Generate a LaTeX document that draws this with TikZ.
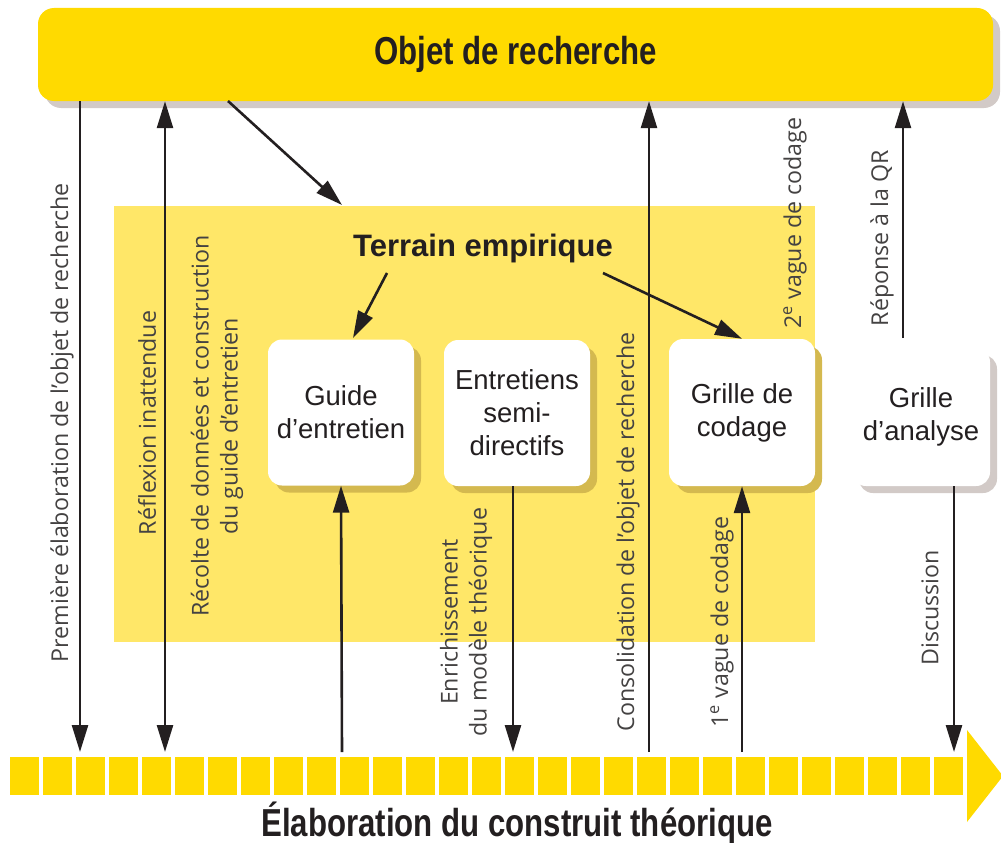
\documentclass[tikz,border=0pt]{standalone}
\usepackage{fontspec}
\usetikzlibrary{arrows.meta,calc}
\setmainfont{Liberation Sans}
\newfontfamily\headfont[FakeStretch=0.8]{Liberation Sans}
\newfontfamily\labfont{Open Sans}
\definecolor{ybright}{HTML}{FFDA00}
\definecolor{ylight}{HTML}{FFE768}
\definecolor{yshadow}{HTML}{D4B94F}
\definecolor{gshadow}{HTML}{D2CAC7}
\definecolor{ink}{HTML}{231F20}
\definecolor{labgray}{HTML}{444242}
\tikzset{
  arr/.style={draw=ink, line width=2.6pt, -{Triangle[length=27pt,width=16pt]}},
  darr/.style={draw=ink, line width=2.6pt, {Triangle[length=27pt,width=16pt]}-{Triangle[length=27pt,width=16pt]}},
  wbox/.style={fill=white, rounded corners=14pt, inner sep=0pt, align=center,
    text=ink, font=\fontsize{27.5}{33}\selectfont},
  yshad/.style={preaction={fill=yshadow, transform canvas={shift={(7pt,-7pt)}}}},
  gshad/.style={preaction={fill=gshadow, transform canvas={shift={(7pt,-7pt)}}}},
  lab/.style={rotate=90, text=labgray, align=center, inner sep=0pt,
    font=\labfont\fontsize{23.2}{29}\selectfont},
  seg/.style={fill=ybright}
}
\begin{document}
\begin{tikzpicture}[x=1pt,y=-1pt]
\useasboundingbox (0,0) rectangle (1001,843);
% top bar
\node[gshad, fill=ybright, rounded corners=16pt, minimum width=955pt, minimum height=93pt,
  inner sep=0pt, text=ink, font=\headfont\bfseries\fontsize{39}{44}\selectfont]
  (objet) at (515.5,54.5) {Objet de recherche};
% terrain region
\node[fill=ylight, minimum width=701pt, minimum height=436pt, inner sep=0pt] (terrain) at (464.5,424) {};
\node[text=ink, font=\bfseries\fontsize{31}{36}\selectfont, inner sep=0pt] (te) at (483,248) {Terrain empirique};
% boxes
\node[wbox, yshad, minimum width=146pt, minimum height=146pt] (guide) at (341,412.5) {Guide\\d’entretien};
\node[wbox, yshad, minimum width=146pt, minimum height=146pt] (entre) at (517,413) {Entretiens\\semi-\\directifs};
\node[wbox, yshad, minimum width=146pt, minimum height=147pt] (codage) at (742,412.5) {Grille de\\codage};
\node[wbox, gshad, minimum width=138pt, minimum height=138pt] (analyse) at (921,417) {Grille\\d’analyse};
% timeline
\foreach \i in {0,...,28} \fill[seg] (10+33*\i,757) rectangle ++(29,38);
\fill[ybright] (967,730) -- (1003,776) -- (967,822) -- cycle;
\node[text=ink, font=\headfont\bfseries\fontsize{39}{44}\selectfont, inner sep=0pt] (elab) at (517,823) {Élaboration du construit théorique};
% free ends on the timeline and elsewhere
\coordinate (b1) at (80,752);
\coordinate (b2) at (165,752);
\coordinate (b3) at (342,752);
\coordinate (b4) at (513,752);
\coordinate (b5) at (649,752);
\coordinate (b6) at (742,752);
\coordinate (b7) at (954,752);
\coordinate (r1) at (903,338);
\coordinate (d1) at (228,101);
\coordinate (d2) at (342,205);
\coordinate (t1) at (387,273);
\coordinate (t2) at (603,273);
% connectors
\draw[arr] (objet.south -| b1) -- (b1);
\draw[darr] (objet.south -| b2) -- (b2);
\draw[arr] (d1) -- (d2);
\draw[arr] (t1) -- (353,338);
\draw[arr] (t2) -- (codage.north);
\draw[arr] (b3) -- (guide.south);
\draw[arr] (entre.south -| b4) -- (b4);
\draw[arr] (b5) -- (objet.south -| b5);
\draw[arr] (b6) -- (codage.south -| b6);
\draw[arr] (r1) -- (objet.south -| r1);
\draw[arr] (analyse.south -| b7) -- (b7);
% labels
\node[lab] (l1) at (62,423) {Première élaboration de l’objet de recherche};
\node[lab] (l2) at (147,423) {Réflexion inattendue};
\node[lab] (l3) at (217,426) {Récolte de données et construction\\du guide d’entretien};
\node[lab] (l4) at (466,622) {Enrichissement\\du modèle théorique};
\node[lab] (l5) at (628,532) {Consolidation de l’objet de recherche};
\node[lab] (l6) at (722,622) {1\textsuperscript{e} vague de codage};
\node[lab] (l7) at (795,223) {2\textsuperscript{e} vague de codage};
\node[lab] (l8) at (882,238) {Réponse à la QR};
\node[lab] (l9) at (930,608) {Discussion};
\end{tikzpicture}
\end{document}
